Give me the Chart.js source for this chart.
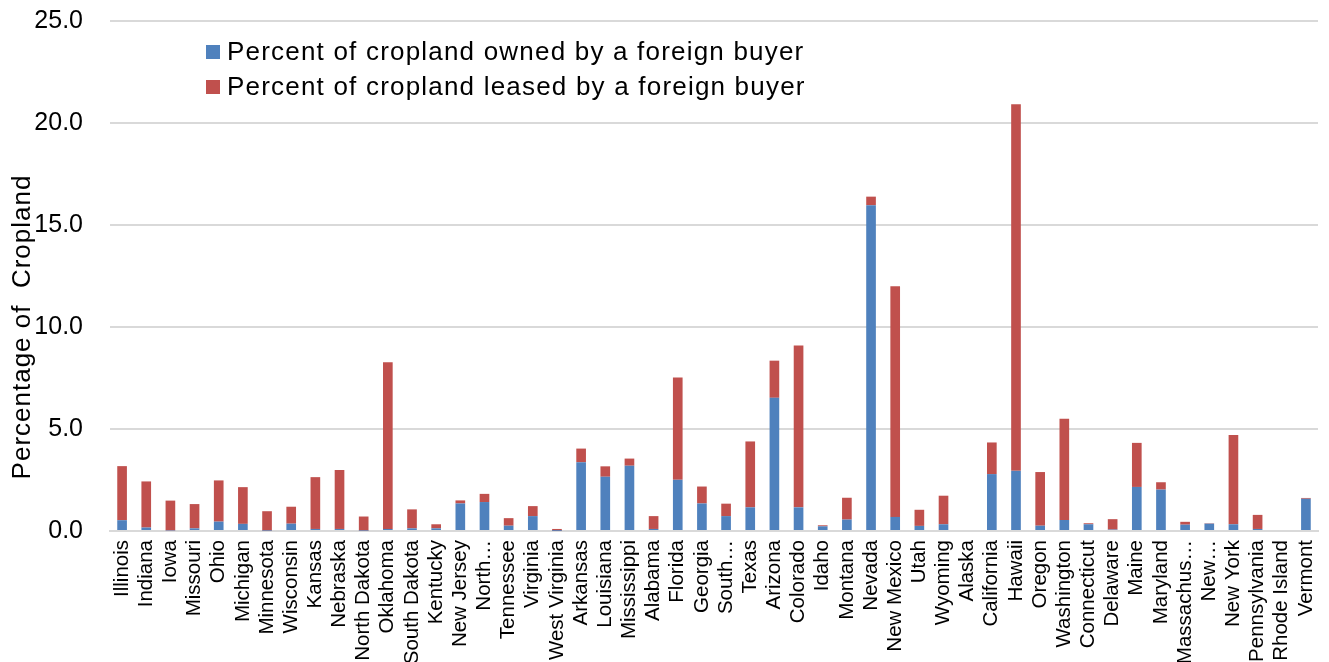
<!DOCTYPE html>
<html>
<head>
<meta charset="utf-8">
<title>Foreign-held cropland by state</title>
<script src="https://cdn.jsdelivr.net/npm/chart.js@4/dist/chart.umd.min.js"></script>
<style>
  html, body { margin: 0; padding: 0; background: #ffffff; }
  #wrap { width: 1329px; height: 662px; position: relative; }
</style>
</head>
<body>
<div id="wrap"><canvas id="chart"></canvas></div>
<script>
// States, in display order
const states = [
  "Illinois", "Indiana", "Iowa", "Missouri", "Ohio", "Michigan", "Minnesota", "Wisconsin",
  "Kansas", "Nebraska", "North Dakota", "Oklahoma", "South Dakota", "Kentucky", "New Jersey",
  "North…", "Tennessee", "Virginia", "West Virginia", "Arkansas", "Louisiana", "Mississippi",
  "Alabama", "Florida", "Georgia", "South…", "Texas", "Arizona", "Colorado", "Idaho",
  "Montana", "Nevada", "New Mexico", "Utah", "Wyoming", "Alaska", "California", "Hawaii",
  "Oregon", "Washington", "Connecticut", "Delaware", "Maine", "Maryland", "Massachus…",
  "New…", "New York", "Pennsylvania", "Rhode Island", "Vermont"
];

// Percent of cropland owned by a foreign buyer
const ownedPct = [
  0.53, 0.17, 0.03, 0.13, 0.46, 0.35, 0.02, 0.36,
  0.10, 0.10, 0.02, 0.10, 0.13, 0.13, 1.35,
  1.42, 0.26, 0.73, 0.01, 3.37, 2.66, 3.20,
  0.10, 2.51, 1.35, 0.73, 1.16, 6.53, 1.16, 0.23,
  0.56, 15.97, 0.69, 0.25, 0.33, 0.00, 2.79, 2.95,
  0.26, 0.54, 0.33, 0.07, 2.16, 2.03, 0.31,
  0.36, 0.33, 0.10, 0.00, 1.58
];

// Percent of cropland leased by a foreign buyer
const leasedPct = [
  2.65, 2.26, 1.46, 1.19, 2.02, 1.80, 0.95, 0.83,
  2.54, 2.89, 0.69, 8.17, 0.93, 0.20, 0.15,
  0.40, 0.37, 0.49, 0.09, 0.67, 0.51, 0.35,
  0.63, 5.02, 0.83, 0.61, 3.23, 1.82, 7.93, 0.05,
  1.07, 0.42, 11.31, 0.79, 1.40, 0.00, 1.55, 17.97,
  2.63, 4.96, 0.05, 0.51, 2.16, 0.36, 0.14,
  0.02, 4.37, 0.69, 0.00, 0.04
];

const seriesNames = [
  "Percent of cropland owned by a foreign buyer",
  "Percent of cropland leased by a foreign buyer"
];

const yAxisTitle = "Percentage of  Cropland";

const FONT = "'Liberation Sans', Arial, Helvetica, sans-serif";

// Legend drawn inside the plot area, upper left
const innerLegend = {
  id: "innerLegend",
  afterDraw(chart) {
    const ctx = chart.ctx;
    const area = chart.chartArea;
    ctx.save();
    ctx.font = "26px " + FONT;
    ctx.letterSpacing = "1.2px";
    ctx.textBaseline = "middle";
    ctx.textAlign = "left";
    chart.data.datasets.forEach((ds, i) => {
      const x = area.left + 96;
      const y = area.top + 31 + i * 35;
      ctx.fillStyle = ds.backgroundColor;
      ctx.fillRect(x, y - 7, 14, 14);
      ctx.fillStyle = "#000000";
      ctx.fillText(ds.label, x + 21, y + 1);
    });
    ctx.restore();
  }
};

// Rotated y-axis caption
const yCaption = {
  id: "yCaption",
  afterDraw(chart) {
    const ctx = chart.ctx;
    const area = chart.chartArea;
    ctx.save();
    ctx.font = "26px " + FONT;
    ctx.letterSpacing = "1px";
    ctx.fillStyle = "#000000";
    ctx.textAlign = "center";
    ctx.textBaseline = "middle";
    ctx.translate(23, (area.top + area.bottom) / 2 + 51);
    ctx.rotate(-Math.PI / 2);
    ctx.fillText(yAxisTitle, 0, 0);
    ctx.restore();
  }
};

new Chart(document.getElementById("chart"), {
  type: "bar",
  data: {
    labels: states,
    datasets: [
      {
        label: seriesNames[0],
        data: ownedPct,
        backgroundColor: "#4F81BD",
        barPercentage: 0.4,
        categoryPercentage: 1.0
      },
      {
        label: seriesNames[1],
        data: leasedPct,
        backgroundColor: "#C0504D",
        barPercentage: 0.4,
        categoryPercentage: 1.0
      }
    ]
  },
  options: {
    responsive: true,
    maintainAspectRatio: false,
    animation: false,
    layout: { padding: { left: 10, right: 11, top: 21, bottom: 0 } },
    plugins: {
      legend: { display: false },
      tooltip: { enabled: false }
    },
    scales: {
      x: {
        stacked: true,
        grid: { display: false, drawTicks: false },
        border: { display: true, color: "#D9D9D9", width: 2 },
        ticks: {
          autoSkip: false,
          minRotation: 90,
          maxRotation: 90,
          padding: 9,
          color: "#000000",
          font: { family: FONT, size: 20.5 }
        },
        afterFit(scale) {
          scale.height = 131;
          scale.paddingLeft = 0;
          scale.paddingRight = 0;
        }
      },
      y: {
        stacked: true,
        min: 0,
        max: 25,
        grid: { color: "#D9D9D9", lineWidth: 2, drawTicks: false },
        border: { display: false },
        ticks: {
          stepSize: 5,
          padding: 27,
          color: "#000000",
          font: { family: FONT, size: 25 },
          callback: (v) => Number(v).toFixed(1)
        },
        afterFit(scale) {
          scale.width = 100;
          scale.paddingTop = 0;
          scale.paddingBottom = 0;
        }
      }
    }
  },
  plugins: [innerLegend, yCaption]
});
</script>
</body>
</html>
